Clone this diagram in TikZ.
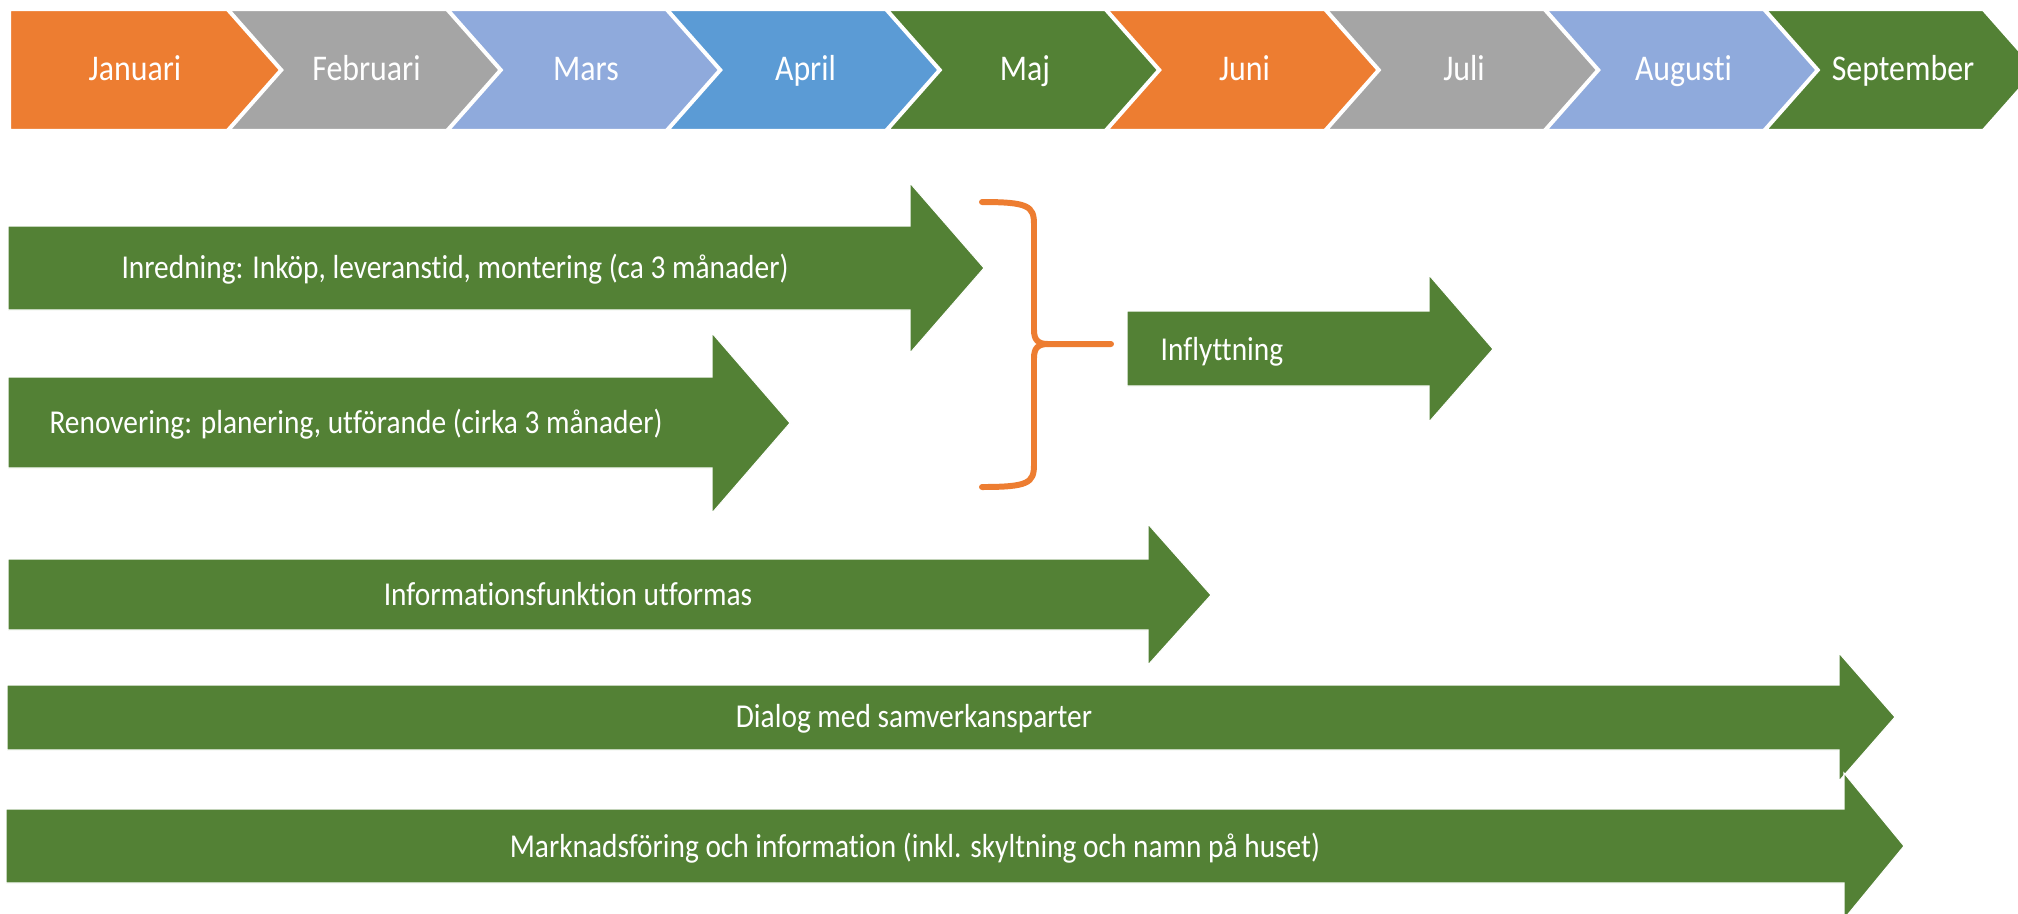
\documentclass[tikz,border=0pt]{standalone}
\usepackage{fontspec}
\setmainfont{Carlito}[FakeStretch=0.88,Ligatures=NoCommon]
\usetikzlibrary{positioning}

\definecolor{mOrange}{HTML}{ED7D31}
\definecolor{mGray}{HTML}{A5A5A5}
\definecolor{mLight}{HTML}{8FAADC}
\definecolor{mBlue}{HTML}{5B9BD5}
\definecolor{mGreen}{HTML}{538135}

\begin{document}
\begin{tikzpicture}[x=0.1mm,y=-0.1mm,
                    month/.style={fill=#1,draw=white,line width=0.6pt},
                    bar/.style={fill=mGreen,draw=white,line width=0.3pt},
                    mlbl/.style={text=white,inner sep=0pt,text height=1.55ex,text depth=0.35ex,
                                 font=\fontsize{10.3}{12}\selectfont},
                    lbl/.style={text=white,inner sep=0pt,text height=1.55ex,text depth=0.35ex,
                                font=\fontsize{9.5}{11}\selectfont},
                    brace/.style={draw=mOrange,line width=1.7pt,line cap=round}]
  \useasboundingbox (0,0) rectangle (2018,913);
  \clip (0,0) rectangle (2018,913);

  % months
  \foreach \m/\c [count=\i from 0] in {Januari/mOrange,Februari/mGray,Mars/mLight,
      April/mBlue,Maj/mGreen,Juni/mOrange,Juli/mGray,Augusti/mLight,September/mGreen}{
    \pgfmathsetmacro{\a}{10+219.5*\i}
    \pgfmathsetmacro{\n}{\i==0 ? \a : \a+53}
    \pgfmathsetmacro{\lx}{\i==0 ? \a+125 : \a+137}
    \draw[month=\c] (\a,10) -- ++(217,0) -- ++(53,60) -- ++(-53,60) -- (\a,130) -- (\n,70) -- cycle;
    \node[mlbl] (m\i) at (\lx,70) {\m};
  }

  % activities
  \draw[bar] (8,226) -- (910,226) -- (910,183) -- (984,268) -- (910,353) -- (910,310) -- (8,310) -- cycle;
  \node[lbl] (inredning) at (455,268) {Inredning: Inköp, leveranstid, montering (ca 3 månader)};

  \draw[bar] (8,377) -- (712,377) -- (712,333) -- (790,423) -- (712,513) -- (712,468) -- (8,468) -- cycle;
  \node[lbl] (renovering) at (356,423) {Renovering: planering, utförande (cirka 3 månader)};

  \draw[bar] (1127,311) -- (1429,311) -- (1429,275) -- (1493,349) -- (1429,422) -- (1429,386) -- (1127,386) -- cycle;
  \node[lbl,anchor=west] (inflyttning) at (1160,350) {Inflyttning};

  \draw[bar] (8,559) -- (1148,559) -- (1148,524) -- (1211,595) -- (1148,665) -- (1148,630) -- (8,630) -- cycle;
  \node[lbl] (infofunktion) at (568,595) {Informationsfunktion utformas};

  \draw[bar] (7,685) -- (1839,685) -- (1839,653) -- (1895,717) -- (1839,781) -- (1839,750) -- (7,750) -- cycle;
  \node[lbl] (dialog) at (914,717) {Dialog med samverkansparter};

  \draw[bar] (6,809) -- (1844,809) -- (1844,773) -- (1904,846) -- (1844,919) -- (1844,883) -- (6,883) -- cycle;
  \node[lbl] (marknad) at (915,847) {Marknadsföring och information (inkl. skyltning och namn på huset)};

  % bracket
  \coordinate (brTop) at (982,202);
  \coordinate (brBot) at (982,487);
  \coordinate (brMid) at (1048,344);
  \coordinate (brEnd) at (1111,344);
  \draw[brace] (brTop) .. controls (1028,202) and (1034,206) .. (1034,224) -- (1034,330)
               .. controls (1034,340) and (1038,344) .. (brMid) -- (brEnd);
  \draw[brace] (brBot) .. controls (1028,487) and (1034,483) .. (1034,465) -- (1034,358)
               .. controls (1034,348) and (1038,344) .. (brMid);
\end{tikzpicture}
\end{document}
